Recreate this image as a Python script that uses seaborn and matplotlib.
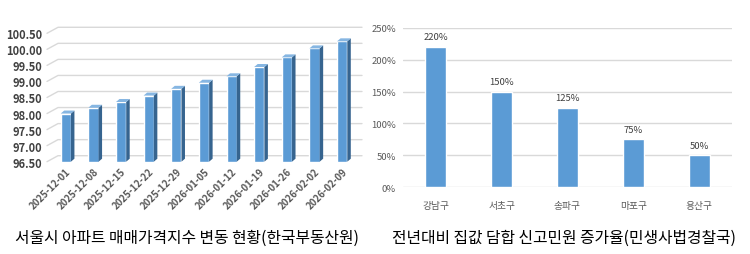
import matplotlib
matplotlib.use("Agg")
import matplotlib.pyplot as plt
import seaborn as sns
import pandas as pd
from matplotlib.patches import Polygon
from matplotlib.lines import Line2D
from matplotlib.transforms import IdentityTransform

sns.set_theme(style="white")
plt.rcParams['font.family'] = ['Noto Sans CJK KR', 'DejaVu Sans']

# ---- data ----
dates = ["2025-12-01", "2025-12-08", "2025-12-15", "2025-12-22", "2025-12-29",
         "2026-01-05", "2026-01-12", "2026-01-19", "2026-01-26", "2026-02-02", "2026-02-09"]
index_values = [98.00, 98.18, 98.36, 98.56, 98.77, 98.96, 99.16, 99.45, 99.75, 100.03, 100.25]
left_yticks = [96.5, 97.0, 97.5, 98.0, 98.5, 99.0, 99.5, 100.0, 100.5]
left_title = "서울시 아파트 매매가격지수 변동 현황(한국부동산원)"

districts = ["강남구", "서초구", "송파구", "마포구", "용산구"]
increase_pct = [220, 150, 125, 75, 50]
right_yticks = [0, 50, 100, 150, 200, 250]
right_title = "전년대비 집값 담합 신고민원 증가율(민생사법경찰국)"

BLUE = "#5B9BD5"
SIDE = "#36648F"
TOP = "#86B6E2"
GRID = "#D9D9D9"
TXT = "#595959"

fig = plt.figure(figsize=(7.5, 2.55), dpi=100)
W, H = 750, 255

# ---- left chart (pseudo 3D) ----
axL = fig.add_axes([52 / W, (H - 162.7) / H, 304 / W, (162.7 - 34.3) / H])
axL.patch.set_visible(False)
dfL = pd.DataFrame({"date": dates, "value": index_values})
base = left_yticks[0]
dfL["height"] = dfL["value"] - base
sns.barplot(data=dfL, x="date", y="height", bottom=base, color=BLUE, width=0.37,
            saturation=1, ax=axL, zorder=3)
axL.set_xlim(-0.5, len(dates) - 0.5)
axL.set_ylim(left_yticks[0], left_yticks[-1])
axL.set_yticks(left_yticks)
axL.set_yticklabels([f"{v:.2f}" for v in left_yticks])
axL.set_xlabel("")
axL.set_ylabel("")
for s in axL.spines.values():
    s.set_visible(False)
axL.tick_params(axis="y", length=0, pad=7, labelsize=8, labelcolor="#404040")
axL.tick_params(axis="x", length=0, pad=3, labelsize=7, labelcolor=TXT)
for lab in axL.get_yticklabels():
    lab.set_fontweight("bold")
for lab in axL.get_xticklabels():
    lab.set_rotation(45)
    lab.set_ha("right")
    lab.set_rotation_mode("anchor")
    lab.set_fontweight("bold")

# perspective gridlines (back wall)
x0d = axL.transData.transform((-0.5, base))[0]
x1d = axL.transData.transform((len(dates) - 0.5, base))[0]
for v in left_yticks:
    yd = axL.transData.transform((0, v))[1]
    fig.add_artist(Line2D([x0d - 5, x0d + 6, x1d + 6], [yd, yd + 6, yd + 6],
                          transform=IdentityTransform(), color=GRID, lw=1, zorder=-1))

# 3D side & top faces derived from each bar patch
dx, dy = 3.5, 3.0
for p in axL.patches:
    (xa, ya), (xb, yb) = axL.transData.transform([(p.get_x(), p.get_y()),
                                                    (p.get_x() + p.get_width(), p.get_y() + p.get_height())])
    side = Polygon([(xb, ya), (xb + dx, ya + dy), (xb + dx, yb + dy), (xb, yb)],
                   closed=True, transform=IdentityTransform(), facecolor=SIDE, edgecolor="none", zorder=4)
    top = Polygon([(xa, yb), (xa + dx, yb + dy), (xb + dx, yb + dy), (xb, yb)],
                  closed=True, transform=IdentityTransform(), facecolor=TOP, edgecolor="none", zorder=4)
    fig.add_artist(side)
    fig.add_artist(top)

fig.text(187 / W, (H - 238) / H, left_title, ha="center", va="center",
         fontsize=11.4, color="#000000")

# ---- right chart ----
axR = fig.add_axes([403 / W, (H - 188.3) / H, 329 / W, (188.3 - 28.7) / H])
dfR = pd.DataFrame({"district": districts, "pct": increase_pct})
sns.barplot(data=dfR, x="district", y="pct", color=BLUE, width=0.32, saturation=1,
            ax=axR, zorder=3)
axR.set_xlim(-0.5, len(districts) - 0.5)
axR.set_ylim(right_yticks[0], right_yticks[-1])
axR.set_yticks(right_yticks)
axR.set_yticklabels([f"{v}%" for v in right_yticks])
axR.yaxis.grid(True, color=GRID, lw=1)
axR.set_axisbelow(True)
axR.set_xlabel("")
axR.set_ylabel("")
for s in axR.spines.values():
    s.set_visible(False)
axR.tick_params(axis="y", length=0, pad=5, labelsize=6.8, labelcolor=TXT)
axR.tick_params(axis="x", length=0, pad=9, labelsize=7, labelcolor=TXT)
axR.bar_label(axR.containers[0], labels=[f"{v}%" for v in increase_pct],
              padding=4, fontsize=6.8, color="#404040")

fig.text(564 / W, (H - 238) / H, right_title, ha="center", va="center",
         fontsize=11.4, color="#000000")

fig.savefig("out.png", dpi=100)
